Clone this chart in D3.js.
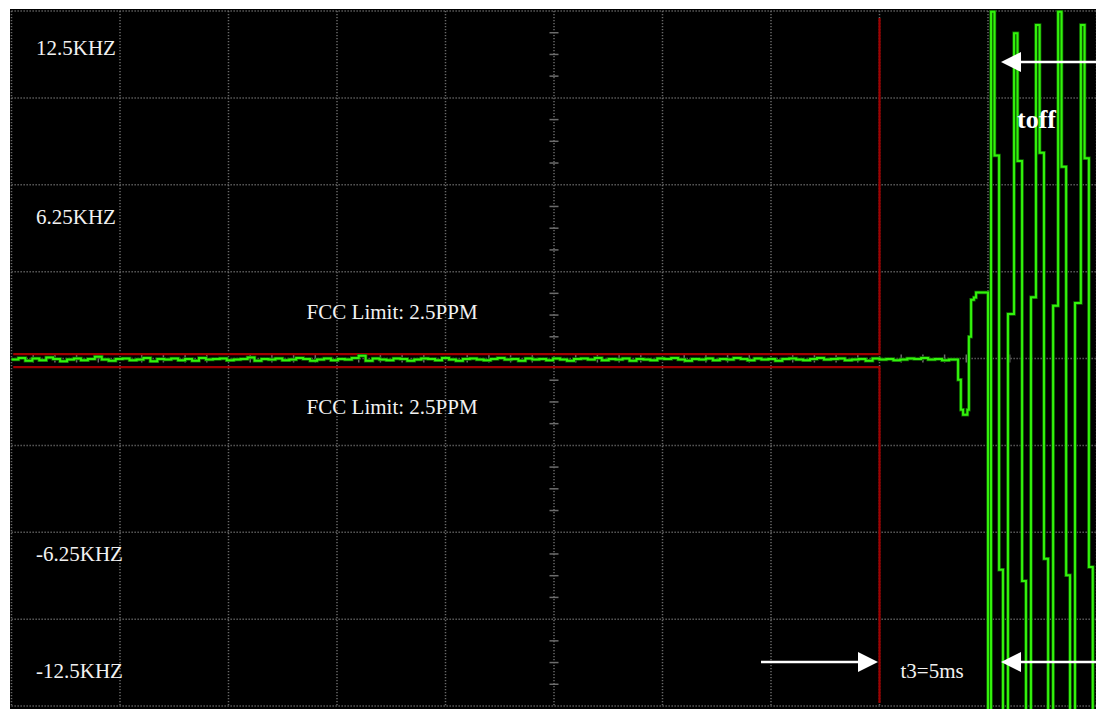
<!DOCTYPE html>
<html>
<head>
<meta charset="utf-8">
<script src="https://cdn.jsdelivr.net/npm/d3@7"></script>
<style>
    body { margin: 0; background: #fff; }
    text { font-family: "Liberation Serif", "Times New Roman", serif; }
</style>
</head>
<body>
<div id="visual"></div>
<script>

/* time axis (ms) and frequency axis (kHz) */
var timeDomain = [0, 50];
var freqDomain = [-12.5, 12.5];

var yLabels = ["12.5KHZ", "6.25KHZ", "-6.25KHZ", "-12.5KHZ"];
var yLabelValues = [12.5, 6.25, -6.25, -12.5];

/* FCC limit band (kHz) and the time where it ends (ms) */
var limitUpper = 0.16, limitLower = -0.31;
var limitEnd = 40.0;

/* flat part of the trace, deviation in Hz, one sample every 0.32 ms */
var noiseHz = [
    -40, 20, -80, 0, -60, 40, -20, -100, -40, 0,
    -60, -20, 60, -40, -80, -20, 0, -60, -40, 20,
    -100, -20, -40, 0, -60, -20, -80, 20, -40, -20,
    0, -60, -40, -20, 40, -80, -20, -40, 0, -60,
    -40, 20, -20, -80, -40, 0, -60, -20, -40, 20,
    100, -80, 0, -40, -60, 0, -20, -80, -40, 0,
    -20, -60, 20, -40, -80, -20, 0, -40, -60, -20,
    20, -40, -20, -80, 0, -40, -20, -60, 0, -40,
    -80, -20, 0, -40, 20, -60, -20, -40, 0, -80,
    -20, -40, -60, 0, -20, 20, -40, -80, -20, -40,
    0, -60, -20, -40, 20, -20, -60, 0, -40, -20,
    -80, -20, 0, -40, -60, -20, 20, -40, -20, 0,
    -60, -40, -20, -80, 0, -40, -20, -60, -40, 0,
    -20, 20, -40, -20, -60, -40
];
var noiseStep = 0.32;

/* transmitter switch-off: dip, plateau */
var eventT = [43.62, 43.75, 43.85, 44.05, 44.12, 44.22, 44.35, 44.45];
var eventF = [-0.76, -1.84, -2.02, -1.84, 0.78, 2.11, 2.19, 2.37];

/* oscillation after toff */
var oscT = [45.00, 45.14, 45.30, 45.51, 45.69, 45.92, 46.20, 46.36, 46.57, 46.75,
    46.98, 47.21, 47.38, 47.58, 47.77, 48.00, 48.23, 48.39, 48.60, 48.78,
    49.01, 49.28, 49.45, 49.65, 49.83, 50.06];
var oscF = [-13.5, 12.47, 7.3, -7.6, -13.5, 1.6, 11.7, 7.1, -8.0, -13.5,
    2.2, 12.0, 7.4, -7.2, -13.5, 1.9, 12.47, 6.9, -7.8, -13.5,
    2.0, 12.0, 7.2, -7.5, -13.5, 1.8];

/* time markers (ms) */
var t3Arrow = [34.54, 39.93];
var toffStart = 45.60;

function buildTrace() {
    var pts = noiseHz.map(function (v, i) {
        return {t: i * noiseStep, f: v / 1000};
    });
    eventT.forEach(function (t, i) {
        pts.push({t: t, f: eventF[i]});
    });
    oscT.forEach(function (t, i) {
        pts.push({t: t, f: oscF[i]});
    });
    return pts;
}

function render() {
    var w = 1096, h = 709;

    var svg = d3.select("#visual").append("svg")
        .attr("width", w)
        .attr("height", h);

    // screen background
    svg.append("rect")
        .attr("x", 10).attr("y", 9)
        .attr("width", w - 10).attr("height", h - 9)
        .attr("fill", "#000");

    var x = d3.scaleLinear().domain(timeDomain).range([11.5, 1096.5]);
    var y = d3.scaleLinear().domain(freqDomain).range([706, 11]);

    svg.append("clipPath").attr("id", "screen")
        .append("rect")
        .attr("x", 10).attr("y", 9)
        .attr("width", w - 10).attr("height", h - 9);

    // ****************** graticule ***************************
    var grid = svg.append("g")
        .attr("stroke", "#686868")
        .attr("stroke-width", 1.5)
        .attr("stroke-dasharray", "1.3,1.7");

    grid.selectAll("line.v")
        .data(d3.range(0, 51, 5))
        .enter().append("line")
        .attr("class", "v")
        .attr("x1", function (d) { return x(d); })
        .attr("x2", function (d) { return x(d); })
        .attr("y1", y(12.5)).attr("y2", y(-12.5));

    grid.selectAll("line.h")
        .data(d3.range(-12.5, 12.51, 3.125))
        .enter().append("line")
        .attr("class", "h")
        .attr("y1", function (d) { return y(d); })
        .attr("y2", function (d) { return y(d); })
        .attr("x1", x(0)).attr("x2", x(50));

    // minor ticks on the centre axes
    var ticks = svg.append("g")
        .attr("stroke", "#6c6c6c")
        .attr("stroke-width", 1.5);

    ticks.selectAll("line.tx")
        .data(d3.range(1, 50).filter(function (d) { return d % 5 != 0; }))
        .enter().append("line")
        .attr("class", "tx")
        .attr("x1", function (d) { return x(d); })
        .attr("x2", function (d) { return x(d); })
        .attr("y1", y(0) - 4).attr("y2", y(0) + 4);

    ticks.selectAll("line.ty")
        .data(d3.range(-12.5, 12.51, 0.78125).filter(function (d) {
            return Math.abs((d / 3.125) - Math.round(d / 3.125)) > 0.01;
        }))
        .enter().append("line")
        .attr("class", "ty")
        .attr("y1", function (d) { return y(d); })
        .attr("y2", function (d) { return y(d); })
        .attr("x1", x(25) - 4.5).attr("x2", x(25) + 4.5);

    // ****************** FCC limit ***************************
    var red = "#a00000";
    svg.append("path")
        .attr("fill", "none").attr("stroke", red).attr("stroke-width", 2.2)
        .attr("d", "M" + x(0.08) + "," + y(limitUpper)
            + "H" + x(limitEnd) + "V" + (y(12.5) + 7));
    svg.append("path")
        .attr("fill", "none").attr("stroke", red).attr("stroke-width", 2.2)
        .attr("d", "M" + x(0.08) + "," + y(limitLower)
            + "H" + x(limitEnd) + "V" + (y(-12.5) - 3));

    // ****************** trace ***************************
    var line = d3.line()
        .x(function (d) { return x(d.t); })
        .y(function (d) { return y(d.f); })
        .curve(d3.curveStepAfter);

    svg.append("path")
        .datum(buildTrace())
        .attr("clip-path", "url(#screen)")
        .attr("fill", "none")
        .attr("stroke", "#0f6a00")
        .attr("stroke-width", 3.5)
        .attr("d", line);

    svg.append("path")
        .datum(buildTrace())
        .attr("clip-path", "url(#screen)")
        .attr("fill", "none")
        .attr("stroke", "#33f20c")
        .attr("stroke-width", 2)
        .attr("d", line);

    // ****************** labels ***************************
    var labelDy = [44, 39, 29, -28];
    svg.selectAll("text.ylab")
        .data(yLabels)
        .enter().append("text")
        .attr("class", "ylab")
        .attr("x", 36)
        .attr("y", function (d, i) { return y(yLabelValues[i]) + labelDy[i]; })
        .attr("fill", "#f2f2f2")
        .attr("font-size", 21)
        .text(function (d) { return d; });

    svg.append("text")
        .attr("x", x(13.6)).attr("y", y(limitUpper) - 35)
        .attr("fill", "#f2f2f2").attr("font-size", 21)
        .text("FCC Limit: 2.5PPM");
    svg.append("text")
        .attr("x", x(13.6)).attr("y", y(limitLower) + 47)
        .attr("fill", "#f2f2f2").attr("font-size", 21)
        .text("FCC Limit: 2.5PPM");

    // ****************** time markers ***************************
    function arrow(fromT, toT, yPos) {
        var x0 = x(fromT), x1 = x(toT), dir = x1 > x0 ? 1 : -1;
        svg.append("line")
            .attr("x1", x0).attr("x2", x1 - dir * 12)
            .attr("y1", yPos).attr("y2", yPos)
            .attr("stroke", "#fff").attr("stroke-width", 2.5);
        svg.append("path")
            .attr("fill", "#fff")
            .attr("d", "M" + x1 + "," + yPos
                + "L" + (x1 - dir * 20) + "," + (yPos - 10)
                + "L" + (x1 - dir * 20) + "," + (yPos + 10) + "Z");
    }

    arrow(t3Arrow[0], t3Arrow[1], 662);
    arrow(50, toffStart, 662);
    arrow(50, toffStart, 62);

    svg.append("text")
        .attr("x", x(limitEnd) + 21).attr("y", 678)
        .attr("fill", "#f2f2f2").attr("font-size", 21)
        .text("t3=5ms");

    svg.append("text")
        .attr("x", x(toffStart) + 16).attr("y", 128)
        .attr("fill", "#fff").attr("font-size", 26)
        .attr("font-weight", "bold")
        .text("toff");
}

render();

</script>
</body>
</html>
